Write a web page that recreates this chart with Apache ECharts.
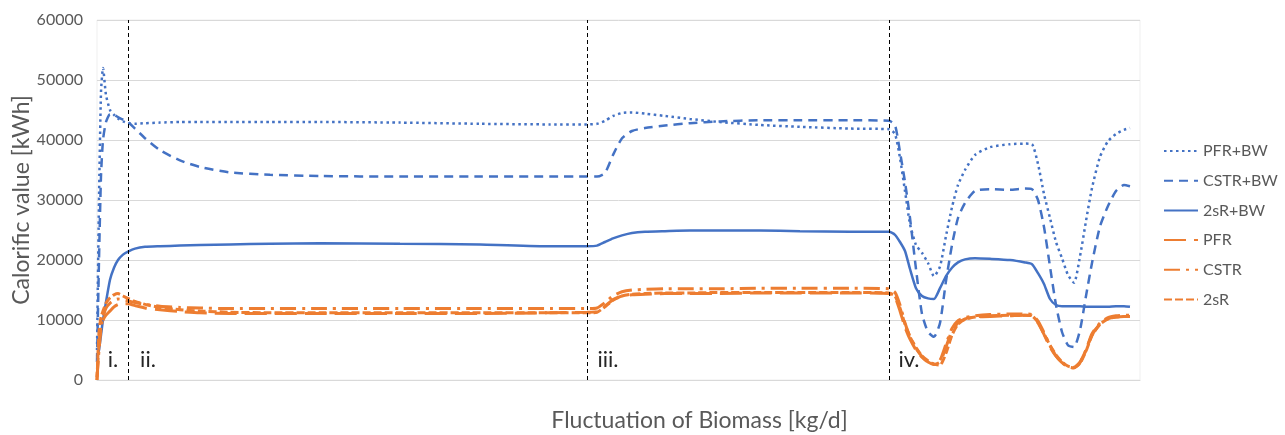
<!DOCTYPE html>
<html>
<head>
<meta charset="utf-8">
<title>Calorific value</title>
<script src="https://cdn.jsdelivr.net/npm/echarts@6/dist/echarts.min.js"></script>
<style>
  html, body { margin: 0; padding: 0; background: #fff; }
  #main { width: 1285px; height: 435px; }
</style>
</head>
<body>
<div id="main"></div>
<script>
// sample positions along the (unlabelled) x axis
var xPos = [0, 2, 4, 6, 9, 13, 17, 21, 26, 31,
  38, 48, 63, 83, 103, 133, 173, 223, 303, 383,
  453, 490, 500, 508, 516, 525, 535, 548, 568, 593,
  623, 663, 703, 753, 792, 798, 803, 808, 813, 819,
  825, 831, 837, 843, 849, 855, 861, 868, 878, 893,
  913, 928, 935, 941, 947, 953, 959, 965, 971, 977,
  983, 989, 995, 1003, 1011, 1019, 1027, 1033];

var pfrBW = [5000, 30000, 48000, 52000, 47500, 45000, 44200, 43600, 43100, 42800,
  42700, 42800, 42900, 43000, 43000, 43000, 43000, 43000, 42900, 42700,
  42600, 42600, 42700, 43200, 44000, 44500, 44600, 44400, 44000, 43500,
  43000, 42500, 42200, 41900, 41800, 41000, 37000, 31500, 26000, 22500,
  21200, 19500, 17300, 18900, 24000, 28800, 32500, 35000, 37500, 38800,
  39300, 39400, 39300, 36000, 31000, 27000, 23000, 20300, 17500, 16200,
  20600, 26500, 32000, 37200, 39800, 41000, 41700, 42000];

var cstrBW = [3000, 20000, 34000, 40000, 43000, 44300, 44200, 43800, 43400, 43000,
  41900, 40300, 38300, 36600, 35500, 34600, 34200, 34000, 33900, 33900,
  33900, 33900, 33900, 34500, 37500, 40300, 41500, 42000, 42400, 42800,
  43100, 43300, 43300, 43300, 43200, 42500, 38000, 33000, 27000, 18500,
  11000, 8000, 7200, 9500, 16500, 22500, 27000, 29500, 31500, 31800,
  31700, 31900, 31800, 30000, 25500, 18900, 12500, 8000, 5800, 5500,
  8300, 14000, 19500, 25600, 29000, 31500, 32500, 32300];

var twoSRBW = [4000, 5000, 7500, 10000, 13000, 16700, 18700, 20000, 20900, 21400,
  21900, 22200, 22300, 22400, 22500, 22600, 22700, 22800, 22700, 22600,
  22300, 22300, 22400, 23000, 23600, 24100, 24500, 24700, 24800, 24900,
  24900, 24900, 24800, 24700, 24700, 24200, 23000, 21500, 18500, 15300,
  14000, 13600, 13500, 15300, 17300, 18700, 19600, 20100, 20300, 20200,
  20000, 19600, 19300, 17800, 16000, 13500, 12500, 12300, 12300, 12300,
  12300, 12200, 12200, 12200, 12200, 12300, 12300, 12200];

var pfr = [0, 6000, 9000, 10000, 10800, 11500, 12200, 12600, 12700, 12700,
  12400, 12000, 11700, 11400, 11200, 11100, 11100, 11100, 11100, 11100,
  11200, 11300, 11400, 12300, 13400, 14000, 14200, 14300, 14400, 14400,
  14400, 14500, 14500, 14500, 14400, 13800, 11500, 8800, 6800, 5000,
  3800, 3000, 2600, 3000, 5500, 8200, 9500, 10200, 10500, 10600,
  10700, 10800, 10700, 9500, 7600, 5500, 4000, 2900, 2300, 2100,
  3000, 5000, 7500, 9300, 10200, 10500, 10600, 10600];

var cstr = [500, 5000, 8500, 10500, 12000, 12800, 13300, 13500, 13400, 13200,
  12900, 12600, 12300, 12100, 12000, 11900, 11900, 11900, 11900, 11900,
  11900, 11900, 12000, 12900, 14000, 14700, 15000, 15100, 15200, 15200,
  15200, 15300, 15300, 15300, 15200, 14600, 12500, 9500, 7200, 5300,
  3900, 3000, 2700, 3300, 6000, 8600, 9900, 10400, 10700, 10900,
  11000, 11000, 10900, 9800, 7900, 5700, 4000, 2900, 2200, 2000,
  2900, 5000, 7700, 9500, 10400, 10700, 10800, 10800];

var twoSR = [0, 8000, 10500, 11500, 12800, 13700, 14200, 14400, 14000, 13600,
  13100, 12600, 12100, 11700, 11500, 11300, 11200, 11200, 11200, 11200,
  11200, 11200, 11300, 12200, 13300, 14000, 14300, 14400, 14500, 14500,
  14600, 14600, 14600, 14600, 14500, 14000, 12000, 9300, 7200, 5400,
  4000, 3200, 2600, 2500, 4500, 7500, 9300, 10100, 10500, 10700,
  10800, 10800, 10700, 9600, 7700, 5800, 4200, 3000, 2300, 2100,
  2800, 4800, 7400, 9300, 10200, 10500, 10600, 10600];

// phase boundaries and their labels
var phaseLines = [31, 490, 792];
var phaseLabels = [['i.', 16], ['ii.', 51], ['iii.', 511], ['iv.', 812]];

var BLUE = "#4472C4";
var ORANGE = "#ED7D31";
var FONT = "Lato, 'Open Sans', sans-serif";

function pairs(ys) {
  return ys.map(function (y, i) { return [xPos[i], y]; });
}

function lineSeries(name, ys, color, width, dash) {
  return {
    name: name,
    type: "line",
    data: pairs(ys),
    symbol: "none",
    smooth: 0.2,
    lineStyle: { color: color, width: width, type: dash },
    itemStyle: { color: color },
    z: 3,
  };
}

var chart = echarts.init(document.getElementById("main"));

var series = [
  lineSeries("PFR+BW", pfrBW, BLUE, 2.5, [2.5, 3.5]),
  lineSeries("CSTR+BW", cstrBW, BLUE, 2.5, [9, 6]),
  lineSeries("2sR+BW", twoSRBW, BLUE, 2.5, "solid"),
  lineSeries("PFR", pfr, ORANGE, 3, [22, 8]),
  lineSeries("CSTR", cstr, ORANGE, 3, [16, 6, 3, 6]),
  lineSeries("2sR", twoSR, ORANGE, 3, [8, 3]),
];

// vertical phase markers + roman numerals hang on the first series
series[0].markLine = {
  silent: true,
  symbol: "none",
  label: { show: false },
  lineStyle: { color: "#000", width: 1, type: [4, 3] },
  data: phaseLines.map(function (x) { return { xAxis: x }; }),
};
series[0].markPoint = {
  silent: true,
  symbol: "circle",
  symbolSize: 0,
  label: {
    show: true,
    position: "inside",
    color: "#262626",
    fontSize: 22,
    fontFamily: FONT,
    formatter: function (p) { return p.name; },
  },
  data: phaseLabels.map(function (d) { return { name: d[0], coord: [d[1], 3300] }; }),
};

chart.setOption({
  animation: false,
  grid: {
    left: 97,
    right: 145,
    top: 20,
    bottom: 55,
    outerBoundsMode: "none",
    show: true,
    borderColor: "#EFEFEF",
    borderWidth: 1,
  },
  legend: {
    orient: "vertical",
    left: 1158,
    top: 138,
    itemWidth: 34,
    itemHeight: 14,
    itemGap: 13.7,
    itemStyle: { color: "transparent", borderWidth: 0 },
    textStyle: { fontSize: 16, color: "#595959", fontFamily: FONT },
    data: ["PFR+BW", "CSTR+BW", "2sR+BW", "PFR", "CSTR", "2sR"],
  },
  xAxis: {
    type: "value",
    min: 0,
    max: 1043,
    axisLabel: { show: false },
    axisTick: { show: false },
    splitLine: { show: false },
    axisLine: { lineStyle: { color: "#D9D9D9" } },
    name: "Fluctuation of Biomass [kg/d]",
    nameLocation: "middle",
    nameGap: 29,
    nameMoveOverlap: false,
    nameTextStyle: {
      fontSize: 23,
      color: "#595959",
      fontFamily: FONT,
      padding: [0, 0, 0, 162],
    },
  },
  yAxis: {
    type: "value",
    min: 0,
    max: 60000,
    interval: 10000,
    axisLine: { show: false },
    axisTick: { show: false },
    axisLabel: {
      fontSize: 16,
      color: "#595959",
      fontFamily: FONT,
      margin: 14,
      formatter: function (v) { return String(v); },
    },
    splitLine: { lineStyle: { color: "#D9D9D9" } },
    name: "Calorific value [kWh]",
    nameLocation: "middle",
    nameGap: 64,
    nameMoveOverlap: false,
    nameTextStyle: { fontSize: 23, color: "#595959", fontFamily: FONT },
  },
  series: series,
});
</script>
</body>
</html>
